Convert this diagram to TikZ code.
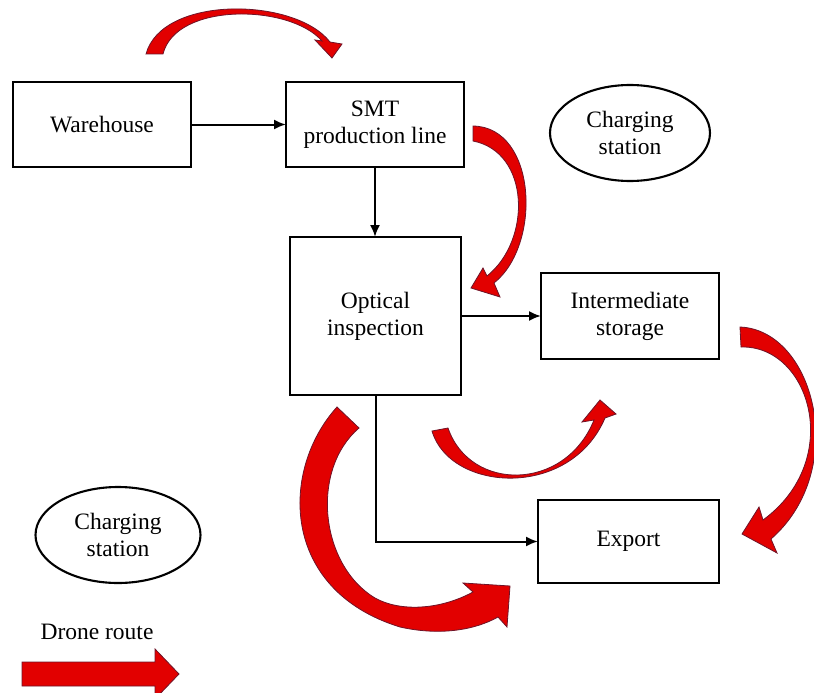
\documentclass[tikz,border=0pt]{standalone}
\usepackage{fontspec}
\setmainfont{Liberation Serif}
\usetikzlibrary{arrows.meta,shapes.geometric}
\definecolor{routered}{RGB}{226,0,0}
\definecolor{routeedge}{RGB}{110,20,40}

\begin{document}
\begin{tikzpicture}[x=1pt, y=-1pt,
    font=\fontsize{23.5}{27}\selectfont,
    B/.style = {rectangle, draw, line width=2.3pt, align=center,% process boxes
                minimum width=178pt, minimum height=85pt, outer sep=0pt},
    E/.style = {ellipse, draw, line width=2.1pt, align=center,% charging stations
                minimum width=160pt, minimum height=96pt},
    L/.style = {draw, line width=2pt, -{Latex[length=12pt,width=10pt]}},
    R/.style = {fill=routered, draw=routeedge, line width=0.8pt},% drone routes
                        ]
\useasboundingbox (0,0) rectangle (814,693);
% boxes
\node[B] (wh)  at (102,124.5) {Warehouse};
\node[B] (smt) at (375,124.5) {SMT\\production line};
\node[B, minimum width=171pt, minimum height=158pt] (opt) at (375.5,316) {Optical\\inspection};
\node[B, minimum height=86pt] (ims) at (630,316) {Intermediate\\storage};
\node[B, minimum width=181pt, minimum height=83pt] (exp) at (628.5,541.5) {Export};
\node[E] (cs1) at (630,133) {Charging\\station};
\node[E, minimum width=165pt] (cs2) at (118,535) {Charging\\station};
\node (lg) at (97,632) {Drone route};
% flow
\draw[L] (wh) -- (smt);
\draw[L] (smt.south) -- (smt.south |- opt.north);
\draw[L] (opt) -- (ims);
\draw[L] (opt.south) |- (exp.west);
% drone routes
\path[R] (146,54) .. controls (162,-5) and (295,-3) .. (330,42)
    -- (342,44) -- (332,58) -- (315,40) -- (322,41)
    .. controls (290,4) and (176,2) .. (163,54) -- cycle;
\path[R] (473,126) .. controls (537,127) and (542,245) .. (494,283)
    -- (500,297) -- (471,288) -- (483,268) -- (487,276)
    .. controls (532,240) and (530,152) .. (473,141) -- cycle;
\path[R] (337,407) .. controls (280,470) and (280,590) .. (400,627)
    .. controls (440,636) and (475,630) .. (498,617)
    -- (507,627) -- (510,586) -- (463,583) -- (473,592)
    .. controls (440,610) and (400,612) .. (375,598)
    .. controls (320,565) and (310,470) .. (359,428) -- cycle;
\path[R] (432,431) .. controls (450,492) and (570,500) .. (605,418)
    -- (616,414) -- (600,400) -- (582,422) -- (594,420)
    .. controls (565,492) and (470,492) .. (448,428) -- cycle;
\path[R] (740,327) .. controls (815,330) and (850,470) .. (771,539)
    -- (777,553) -- (742,534) -- (759,507) -- (763,520)
    .. controls (845,460) and (810,345) .. (741,347) -- cycle;
% legend
\path[R] (22,662) -- (155,662) -- (155,649) -- (179,674) -- (155,699)
    -- (155,686) -- (22,686) -- cycle;
\end{tikzpicture}
\end{document}
